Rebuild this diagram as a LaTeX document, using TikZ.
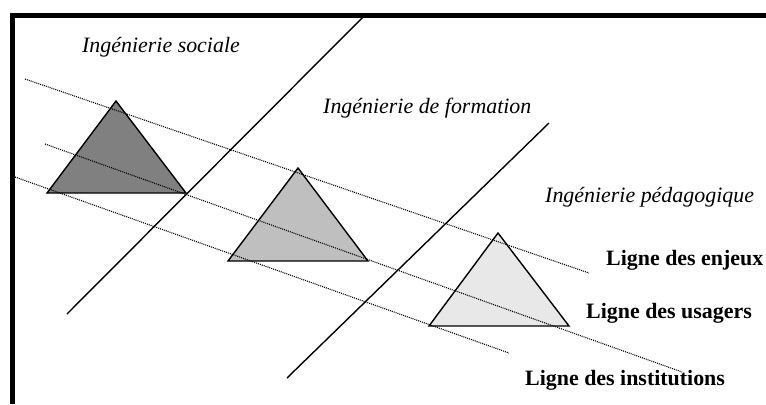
\documentclass[tikz,border=0pt]{standalone}
\usepackage{fontspec}
\setmainfont{Liberation Serif}
\usepackage{tikz}

\begin{document}
\begin{tikzpicture}[x=1bp,y=-1bp,
  tri/.style={draw,line width=1.4bp,line join=miter},
  guide/.style={line width=1.1bp,dash pattern=on 1bp off 1bp,black},
  axe/.style={line width=1.4bp},
  ing/.style={anchor=base west,inner sep=0pt,font=\fontsize{22}{26}\selectfont\itshape},
  ligne/.style={anchor=base west,inner sep=0pt,font=\fontsize{22}{26}\selectfont\bfseries}]
\useasboundingbox (0,0) rectangle (766,404);

\draw[tri,fill=black!50] (116,101) -- (47,193) -- (186,193) -- cycle;
\draw[tri,fill=black!25] (298,168) -- (228,261) -- (368,261) -- cycle;
\draw[tri,fill=black!9]  (498,233) -- (429,326) -- (569,326) -- cycle;

\coordinate (e1) at (25,79);  \coordinate (e2) at (589,273);
\coordinate (u1) at (45,144); \coordinate (u2) at (682,372);
\coordinate (i1) at (15,177); \coordinate (i2) at (509,353);
\draw[guide] (e1) -- (e2);
\draw[guide] (u1) -- (u2);
\draw[guide] (i1) -- (i2);

\coordinate (a1) at (67,314);  \coordinate (a2) at (366,14);
\coordinate (b1) at (287,378); \coordinate (b2) at (549,123);
\draw[axe] (a1) -- (a2);
\draw[axe] (b1) -- (b2);

\draw[line width=5bp] (12.5,404) -- (12.5,15.5) -- (766,15.5);

\node[ing] (sociale) at (82,52) {Ingénierie sociale};
\node[ing] (formation) at (323,113) {Ingénierie de formation};
\node[ing] (pedago) at (545,202) {Ingénierie pédagogique};

\node[ligne] (enjeux) at (606,265) {Ligne des enjeux};
\node[ligne] (usagers) at (586,318) {Ligne des usagers};
\node[ligne] (institutions) at (525,385) {Ligne des institutions};
\end{tikzpicture}
\end{document}
